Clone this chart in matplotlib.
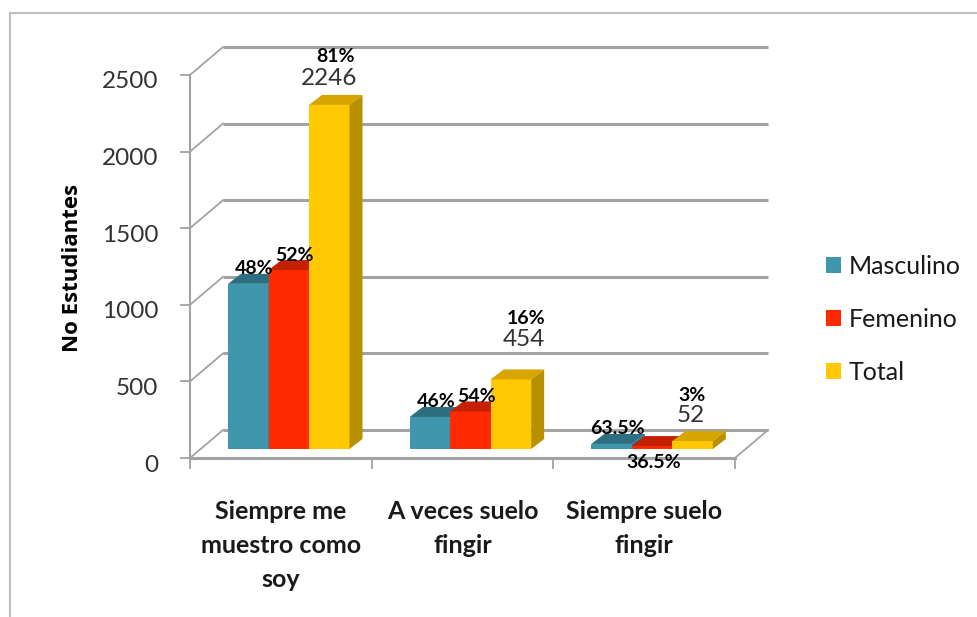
import matplotlib.pyplot as plt
from matplotlib.patches import Polygon, Patch
from matplotlib.lines import Line2D
from matplotlib.transforms import ScaledTranslation

plt.rcParams['font.family'] = ['Lato', 'DejaVu Sans']

# Datos
categorias = ['Siempre me\nmuestro como\nsoy', 'A veces suelo\nfingir', 'Siempre suelo\nfingir']
series = ['Masculino', 'Femenino', 'Total']
masculino = [1078, 209, 33]
femenino = [1168, 245, 19]
total = [2246, 454, 52]
pct_masc = ['48%', '46%', '63.5%']
pct_fem = ['52%', '54%', '36.5%']
pct_total = ['81%', '16%', '3%']
yticks = [0, 500, 1000, 1500, 2000, 2500]

# Colores (frente, tapa, lado)
colores = {
    'Masculino': ('#3E97AD', '#2D6F80', '#2D6F80'),
    'Femenino': ('#FF2A00', '#C42000', '#C42000'),
    'Total': ('#FFC800', '#D6A500', '#B89000'),
}
GRIS = '#A3A3A3'

fig = plt.figure(figsize=(9.77, 6.17), dpi=100)
ax = fig.add_axes([190 / 977, (617 - 458) / 617, 545 / 977, 383 / 617])
ax.set_xlim(0, 3)
ax.set_ylim(0, 2500)

# pixeles -> unidades de datos
UX = 3 / 545
UY = 2500 / 383

wall_dx, wall_dy = 33 * UX, 28 * UY     # profundidad de la pared
bar_ox, bar_oy = 38 * UX, 9 * UY        # desplazamiento de la cara frontal
bar_w = 40.5 * UX
bar_dx, bar_dy = 13 * UX, 10 * UY       # profundidad de la barra

# Pared trasera y lateral
for v in yticks:
    ax.plot([wall_dx, 3 + wall_dx], [v + wall_dy, v + wall_dy], color=GRIS, lw=2.2,
            clip_on=False, zorder=1, solid_capstyle='butt')
    ax.plot([0, wall_dx], [v, v + wall_dy], color=GRIS, lw=1.3, clip_on=False, zorder=1)
ax.plot([3, 3 + wall_dx], [0, wall_dy], color=GRIS, lw=1.3, clip_on=False, zorder=1)


def barra3d(left, base, h, cols, z):
    frente, tapa, lado = cols
    r = left + bar_w
    top = base + h
    ax.add_patch(Polygon([(left, base), (r, base), (r, top), (left, top)],
                         closed=True, fc=frente, ec='none', zorder=z, clip_on=False))
    ax.add_patch(Polygon([(left, top), (r, top), (r + bar_dx, top + bar_dy), (left + bar_dx, top + bar_dy)],
                         closed=True, fc=tapa, ec='none', zorder=z, clip_on=False))
    ax.add_patch(Polygon([(r, base), (r + bar_dx, base + bar_dy), (r + bar_dx, top + bar_dy), (r, top)],
                         closed=True, fc=lado, ec='none', zorder=z, clip_on=False))


valores = [masculino, femenino, total]
pct_bajos = [pct_masc, pct_fem]
pos_fem = ['arriba', 'arriba', 'abajo']
off_val = [(0, 26), (13, 40), (-2, 26)]
off_pct = [(6, 48), (15, 61), (-1, 46)]
PT = 0.72

for i in range(len(categorias)):
    for j, s in enumerate(series):
        left = i + bar_ox + j * bar_w
        h = valores[j][i]
        barra3d(left, bar_oy, h, colores[s], 3 + i * 3 + j)
        cx = left + bar_w / 2
        if j < 2:
            if j == 1 and pos_fem[i] == 'abajo':
                ax.annotate(pct_bajos[j][i], (cx, bar_oy), xytext=(2 * PT, -14 * PT),
                            textcoords='offset points', ha='center', va='center',
                            fontsize=14, fontweight='bold', color='black', zorder=20,
                            annotation_clip=False)
            else:
                ax.annotate(pct_bajos[j][i], (cx, bar_oy + h), xytext=(6 * PT, 15 * PT),
                            textcoords='offset points', ha='center', va='center',
                            fontsize=14, fontweight='bold', color='black', zorder=20,
                            annotation_clip=False)
        else:
            ax.annotate(str(h), (cx, bar_oy + h), xytext=(off_val[i][0] * PT, off_val[i][1] * PT),
                        textcoords='offset points', ha='center', va='center',
                        fontsize=17.5, color='#333333', zorder=20, annotation_clip=False)
            ax.annotate(pct_total[i], (cx, bar_oy + h), xytext=(off_pct[i][0] * PT, off_pct[i][1] * PT),
                        textcoords='offset points', ha='center', va='center',
                        fontsize=14, fontweight='bold', color='black', zorder=20,
                        annotation_clip=False)

# Ejes
for lado in ['top', 'right']:
    ax.spines[lado].set_visible(False)
ax.spines['left'].set_color(GRIS)
ax.spines['left'].set_linewidth(1.5)
ax.spines['bottom'].set_color(GRIS)
ax.spines['bottom'].set_linewidth(2.2)
ax.patch.set_alpha(0)

ax.set_yticks(yticks)
ax.set_yticklabels([str(v) for v in yticks], fontsize=17.5, color='#333333')
ax.tick_params(axis='y', length=7, width=1.3, color=GRIS, pad=16)
for lbl in ax.get_yticklabels():
    lbl.set_transform(lbl.get_transform() + ScaledTranslation(0, -5 / 100, fig.dpi_scale_trans))

ax.set_xticks([0, 1, 2, 3])
ax.set_xticklabels([])
ax.set_xticks([0.5, 1.5, 2.5], minor=True)
ax.set_xticklabels(categorias, minor=True, fontsize=18, fontweight='bold', color='#1a1a1a',
                   linespacing=1.58)
ax.tick_params(axis='x', which='major', length=8, width=1.3, color=GRIS)
ax.tick_params(axis='x', which='minor', length=0, pad=30)

fig.text(72 / 977, 1 - 268 / 617, 'No Estudiantes', rotation=90, ha='center', va='center',
         fontsize=16, fontweight='bold', family=['Open Sans', 'DejaVu Sans'], color='black')

# Leyenda
handles = [Patch(fc=colores[s][0], ec='none') for s in series]
fig.legend(handles, series, loc='upper left', bbox_to_anchor=(826 / 977, 1 - 255 / 617),
           frameon=False, fontsize=18, handlelength=0.6, handleheight=0.6,
           handletextpad=0.3, labelspacing=1.2, borderpad=0, borderaxespad=0,
           labelcolor='#1a1a1a')

# Marco exterior
fig.add_artist(Line2D([10 / 977, 1], [1 - 13 / 617, 1 - 13 / 617], color='#BFBFBF', lw=1.5))
fig.add_artist(Line2D([10 / 977, 10 / 977], [0, 1 - 13 / 617], color='#BFBFBF', lw=1.5))

fig.savefig('out.png', dpi=100, facecolor='white')
